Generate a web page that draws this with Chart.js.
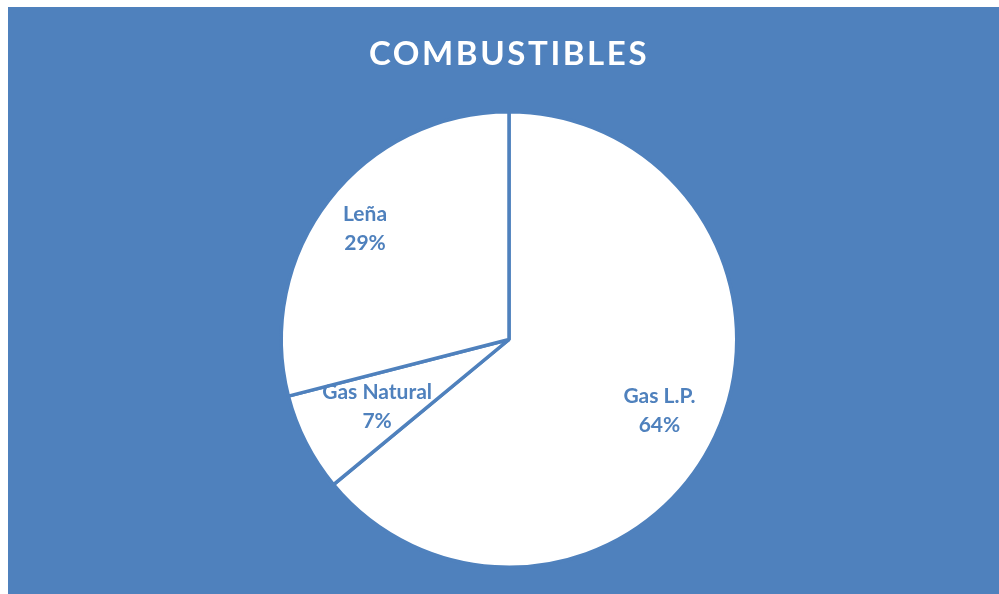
<!DOCTYPE html>
<html>
<head>
<meta charset="utf-8">
<script src="https://cdn.jsdelivr.net/npm/chart.js@4"></script>
<style>
  html, body { margin: 0; padding: 0; background: #ffffff; }
  #wrap { width: 999px; height: 594px; }
</style>
</head>
<body>
<div id="wrap"><canvas id="combustibles"></canvas></div>
<script>
const titulo = 'COMBUSTIBLES';
const categorias = ['Gas L.P.', 'Gas Natural', 'Leña'];
const porcentajes = [64, 7, 29];
// how far along the radius each label sits
const posEtiqueta = [0.73, 0.65, 0.80];

const azul = '#4f81bd';

// blue panel behind everything + the title
const fondo = {
    id: 'fondo',
    beforeDraw(chart) {
        const ctx = chart.ctx;
        ctx.save();
        ctx.fillStyle = azul;
        ctx.fillRect(8, 7, chart.width - 8, chart.height - 7);
        ctx.fillStyle = '#ffffff';
        ctx.font = 'bold 33px Lato';
        ctx.letterSpacing = '2.6px';
        ctx.textAlign = 'center';
        ctx.textBaseline = 'middle';
        ctx.fillText(titulo, 509, 54);
        ctx.restore();
    }
};

// name + percentage inside each slice
const etiquetas = {
    id: 'etiquetas',
    afterDatasetsDraw(chart) {
        const ctx = chart.ctx;
        const meta = chart.getDatasetMeta(0);
        ctx.save();
        ctx.fillStyle = azul;
        ctx.font = 'bold 21px Lato';
        ctx.textAlign = 'center';
        ctx.textBaseline = 'middle';
        meta.data.forEach((arc, i) => {
            const p = arc.getProps(['x', 'y', 'startAngle', 'endAngle', 'outerRadius'], true);
            const mid = (p.startAngle + p.endAngle) / 2;
            const r = p.outerRadius * posEtiqueta[i];
            const x = p.x + Math.cos(mid) * r;
            const y = p.y + Math.sin(mid) * r;
            ctx.fillText(categorias[i], x, y - 14);
            ctx.fillText(porcentajes[i] + '%', x, y + 15);
        });
        ctx.restore();
    }
};

new Chart(document.getElementById('combustibles'), {
    type: 'pie',
    data: {
        labels: categorias,
        datasets: [{
            data: porcentajes,
            backgroundColor: '#ffffff',
            borderColor: azul,
            borderWidth: 3.5
        }]
    },
    options: {
        responsive: true,
        maintainAspectRatio: false,
        animation: false,
        layout: { padding: { top: 110, bottom: 25, left: 19, right: 0 } },
        plugins: {
            legend: { display: false },
            tooltip: { enabled: false },
            title: { display: false }
        }
    },
    plugins: [fondo, etiquetas]
});
</script>
</body>
</html>
